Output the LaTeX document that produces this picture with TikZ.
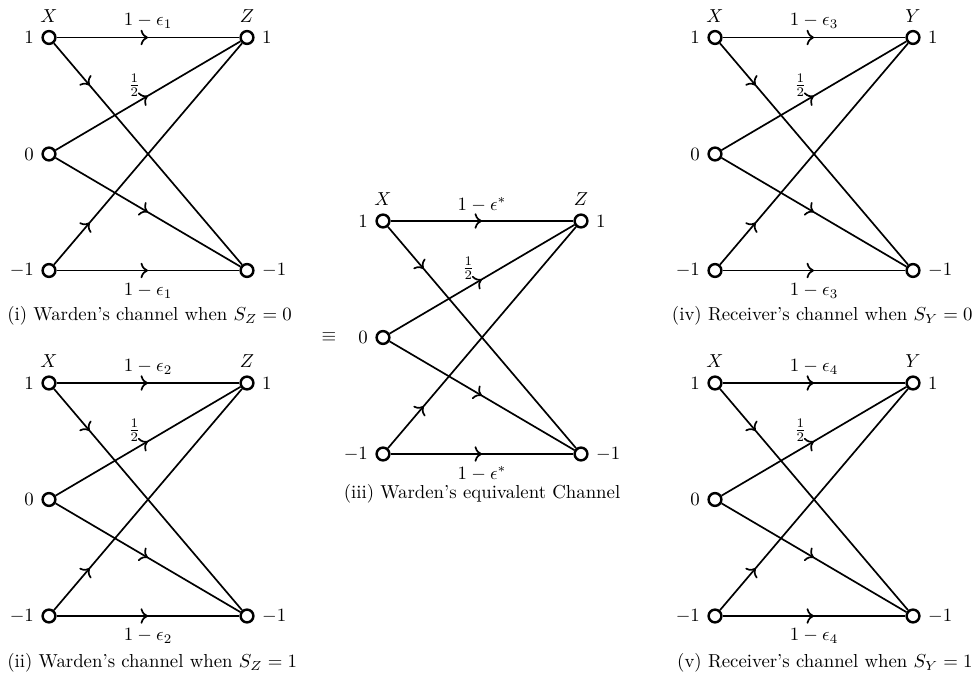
\documentclass[tikz,border=0pt]{standalone}
\usetikzlibrary{decorations.markings,arrows.meta}
\tikzset{
  vtx/.style={circle, draw, line width=1.3pt, fill=white, minimum size=6.8pt, inner sep=0pt},
  edge/.style={line width=0.9pt},
  midarrow/.style={postaction={decorate}, decoration={markings, mark=at position 0.5 with {\arrow{To[scale=1.1]}}}},
  earlyarrow/.style={postaction={decorate}, decoration={markings, mark=at position 0.19 with {\arrow{To[scale=1.1]}}}},
  caption/.style={inner sep=0pt},
}
\newcommand\chpanel[5]{%
  \begin{scope}[shift={(#1,#2)}]
    \node[vtx, label={left:$1$}, label={above:$X$}] (#3a) at (0,0) {};
    \node[vtx, label={left:$0$}] (#3b) at (0,116.5) {};
    \node[vtx, label={left:$-1$}] (#3c) at (0,233) {};
    \node[vtx, label={right:$1$}, label={above:$#4$}] (#3p) at (198,0) {};
    \node[vtx, label={right:$-1$}] (#3q) at (198,233) {};
    \draw[edge, midarrow] (#3a) -- node[above=1pt] (#3la) {$1-#5$} (#3p);
    \draw[edge, midarrow] (#3c) -- node[below=3pt] (#3lb) {$1-#5$} (#3q);
    \draw[edge, earlyarrow] (#3a) -- (#3q);
    \draw[edge, earlyarrow] (#3c) -- (#3p);
    \draw[edge, midarrow] (#3b) -- node[xshift=-7.2pt, yshift=5.7pt] (#3lh) {$\frac12$} (#3p);
    \draw[edge, midarrow] (#3b) -- (#3q);
  \end{scope}}
\begin{document}
\begin{tikzpicture}[x=0.5319pt, y=-0.5319pt, label distance=0.5pt]
  \useasboundingbox (0,0) rectangle (976,683);
  \chpanel{49}{37.5}{i}{Z}{\epsilon_1}
  \chpanel{49}{383}{ii}{Z}{\epsilon_2}
  \chpanel{383}{221}{iii}{Z}{\epsilon^*}
  \chpanel{715}{37.5}{iv}{Y}{\epsilon_3}
  \chpanel{715}{383}{v}{Y}{\epsilon_4}
  \node[caption, anchor=west] (capi) at (7,316) {(i) Warden's channel when $S_Z = 0$};
  \node[caption, anchor=west] (capii) at (7,663) {(ii) Warden's channel when $S_Z = 1$};
  \node[caption] (capiii) at (482,494) {(iii) Warden's equivalent Channel};
  \node[caption, anchor=east] (capiv) at (973,316) {(iv) Receiver's channel when $S_Y = 0$};
  \node[caption, anchor=east] (capv) at (973,663) {(v) Receiver's channel when $S_Y = 1$};
  \node (eqv) at (329,337.5) {$\equiv$};
\end{tikzpicture}
\end{document}
